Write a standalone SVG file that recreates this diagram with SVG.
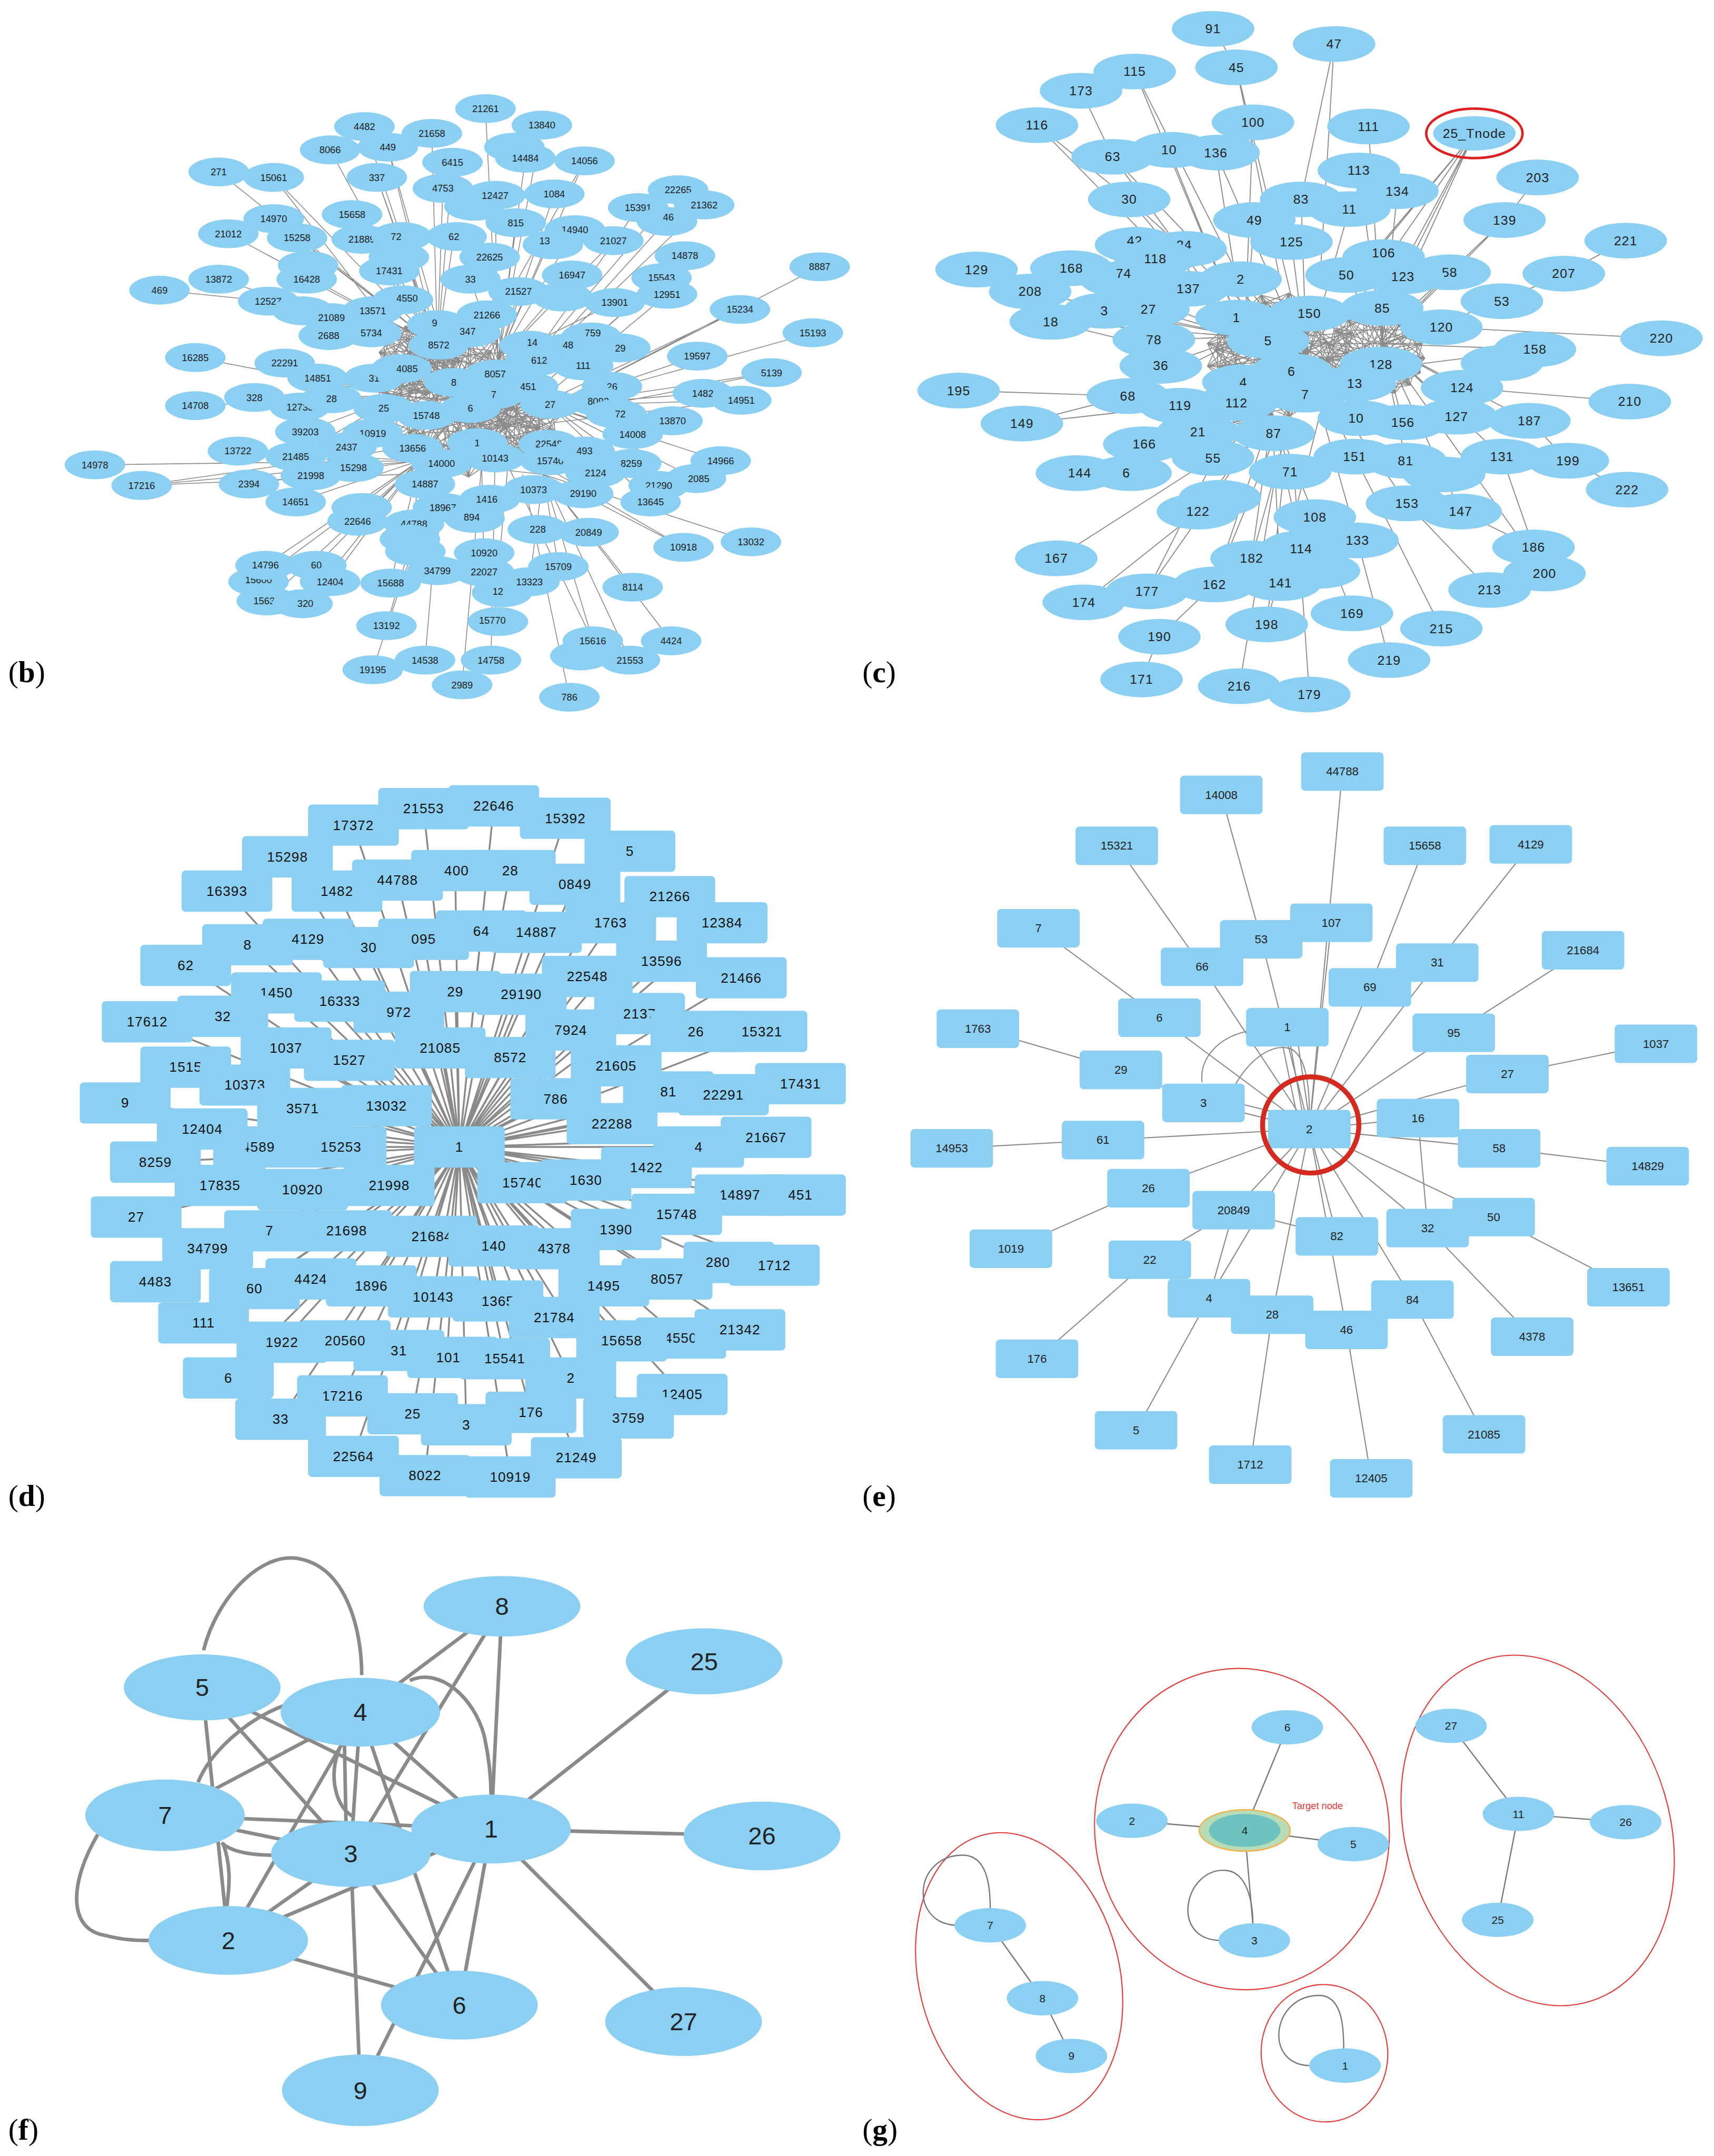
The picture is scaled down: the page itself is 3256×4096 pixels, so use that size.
<svg xmlns="http://www.w3.org/2000/svg" width="3256" height="4096" viewBox="0 0 3256 4096">
<style>
.nb ellipse,.nc ellipse,.nf ellipse,.ng ellipse{fill:#8BCFF3}
.nd rect,.ne rect{fill:#8BCFF3}
text{text-anchor:middle;dominant-baseline:central}
.nb text{font:7px "Liberation Sans",Arial,sans-serif;fill:#1d1d1d}
.nc text{font:9.5px "Liberation Sans",Arial,sans-serif;fill:#222;letter-spacing:.4px}
.nd text{font:10px "Liberation Sans",Arial,sans-serif;fill:#111;letter-spacing:.4px}
.ne text{font:8.5px "Liberation Sans",Arial,sans-serif;fill:#222}
.nf text{font:18px "Liberation Sans",Arial,sans-serif;fill:#222}
.ng text{font:8px "Liberation Sans",Arial,sans-serif;fill:#222}
.eb{stroke:#8a8a8a;stroke-width:.6;fill:none}
.ec{stroke:#8a8a8a;stroke-width:.7;fill:none}
.ed{stroke:#8a8a8a;stroke-width:1.3;fill:none}
.ee{stroke:#8a8a8a;stroke-width:.8;fill:none}
.ef{stroke:#8a8a8a;stroke-width:2.6;fill:none}
.eg{stroke:#777;stroke-width:.9;fill:none}
.grp{fill:none;stroke:#E53935;stroke-width:.8}
.pl{font:22px "Liberation Serif","Times New Roman",serif;fill:#000;text-anchor:start;dominant-baseline:auto}
</style>
<defs>
<g id="mesh" fill="none" stroke="#8a8a8a">
<polygon vector-effect="non-scaling-stroke" stroke-width="1.6" points="100,0 -85,52.6 44.6,-89.5 9.2,99.6 -60.3,-79.8 93.3,36.1 -98.3,18.4 73.9,-67.4 -27.4,96.2 -27.4,-96.2 73.9,67.4 -98.3,-18.4 93.3,-36.1 -60.3,79.8 9.2,-99.6 44.6,89.5 -85,-52.6"/>
<polygon vector-effect="non-scaling-stroke" stroke-width="1.6" points="100,0 -27.4,96.2 -85,-52.6 73.9,-67.4 44.6,89.5 -98.3,18.4 9.2,-99.6 93.3,36.1 -60.3,79.8 -60.3,-79.8 93.3,-36.1 9.2,99.6 -98.3,-18.4 44.6,-89.5 73.9,67.4 -85,52.6 -27.4,-96.2"/>
<polygon vector-effect="non-scaling-stroke" stroke-width="1.6" points="100,0 -98.3,18.4 93.3,-36.1 -85,52.6 73.9,-67.4 -60.3,79.8 44.6,-89.5 -27.4,96.2 9.2,-99.6 9.2,99.6 -27.4,-96.2 44.6,89.5 -60.3,-79.8 73.9,67.4 -85,-52.6 93.3,36.1 -98.3,-18.4"/>
<polygon vector-effect="non-scaling-stroke" stroke-width="1.6" points="100,0 44.6,89.5 -60.3,79.8 -98.3,-18.4 -27.4,-96.2 73.9,-67.4 93.3,36.1 9.2,99.6 -85,52.6 -85,-52.6 9.2,-99.6 93.3,-36.1 73.9,67.4 -27.4,96.2 -98.3,18.4 -60.3,-79.8 44.6,-89.5"/>
</g>
</defs>
<rect width="3256" height="4096" fill="#fff"/>
<g transform="scale(2.6127)">

<!-- ================= PANEL B ================= -->
<g id="b-edges" class="eb">
<use href="#mesh" transform="translate(335,292) scale(0.62,0.55)"/>
<use href="#mesh" transform="translate(330,288) rotate(11) scale(0.45,0.42)"/>
<use href="#mesh" transform="translate(372,300) rotate(5) scale(0.35,0.3)"/>
<use href="#mesh" transform="translate(305,262) rotate(20) scale(0.3,0.25)"/>
<path d="M265 92L318 252M314 97L318 252M240 109L318 252M282 107L318 252M159 125L318 252M199 129L318 252M274 129L318 252M322 137L318 252M199 159L318 252M256 156L318 252M166 170L318 252M216 173L318 252M263 174L318 252M159 203L318 252M116 211L195 219M195 219L318 252M223 203L318 252M283 197L318 252M329 118L318 252M330 172L318 252M290 172L318 252M274 129L330 290M199 129L300 260M282 107L325 260"/>
<path d="M353 79L362 262M394 91L362 262M382 115L362 262M425 117L362 262M360 142L362 262M403 141L362 262M375 162L362 262M418 167L362 262M493 138L380 270M464 151L380 270M512 149L390 265M485 160L390 265M446 175L362 262M498 186L395 280M416 200L362 262M481 202L395 280M485 214L400 285M447 220L362 262M356 187L362 262M377 212L362 262M342 203L362 262M399 174L362 262M425 117L350 250"/>
<path d="M596 194L400 295M538 225L400 295M538 225L380 300M591 242L400 295M507 259L400 295M561 271L400 295M561 271L385 305M511 286L400 295M539 291L400 295M539 291L380 310M489 306L400 295M460 316L400 295M524 335L400 295M506 348L400 295M479 353L400 295M473 365L400 295"/>
<path d="M546 394L395 345M497 398L395 345M497 398L380 330M460 427L395 345M488 466L395 345M458 480L395 345M431 466L395 345M431 466L370 340M414 507L380 345M406 412L395 345M385 423L395 345M359 451L370 330M357 480L360 330M336 498L350 340M352 416L350 330"/>
<path d="M69 338L305 335M103 353L305 335M103 353L300 325M103 353L290 345M173 328L305 335M181 352L305 335M215 365L305 335M193 411L305 335M230 411L305 335M188 422L305 335M240 423L305 335M194 437L305 335M222 439L305 335M284 424L305 335M281 455L315 340M271 487L320 340M309 480L320 350M318 415L320 340M260 379L305 335M301 381L305 335"/>
<path d="M142 260L290 288M207 264L290 288M142 295L290 288M185 289L290 288M218 296L290 288M222 314L290 288M215 332L290 288M226 346L290 288M231 275L290 288"/>
<path d="M318 252L400 295M318 252L395 345M318 252L305 335M362 262L305 335M362 262L395 345M400 295L305 335M290 288L400 295M290 288L395 345M290 288L362 262M318 252L362 262M305 335L395 345"/>
</g>
<g id="b-nodes" class="nb">
<g id="b-h1"><ellipse cx="374" cy="107" rx="22" ry="10.5"/></g>
<g id="b-21261"><ellipse cx="353" cy="79" rx="22" ry="10.5"/><text x="353" y="79">21261</text></g>
<g id="b-13840"><ellipse cx="394" cy="91" rx="22" ry="10.5"/><text x="394" y="91">13840</text></g>
<g id="b-4482"><ellipse cx="265" cy="92" rx="22" ry="10.5"/><text x="265" y="92">4482</text></g>
<g id="b-21658"><ellipse cx="314" cy="97" rx="22" ry="10.5"/><text x="314" y="97">21658</text></g>
<g id="b-8066"><ellipse cx="240" cy="109" rx="22" ry="10.5"/><text x="240" y="109">8066</text></g>
<g id="b-449"><ellipse cx="282" cy="107" rx="22" ry="10.5"/><text x="282" y="107">449</text></g>
<g id="b-14484"><ellipse cx="382" cy="115" rx="22" ry="10.5"/><text x="382" y="115">14484</text></g>
<g id="b-14056"><ellipse cx="425" cy="117" rx="22" ry="10.5"/><text x="425" y="117">14056</text></g>
<g id="b-6415"><ellipse cx="329" cy="118" rx="22" ry="10.5"/><text x="329" y="118">6415</text></g>
<g id="b-271"><ellipse cx="159" cy="125" rx="22" ry="10.5"/><text x="159" y="125">271</text></g>
<g id="b-15061"><ellipse cx="199" cy="129" rx="22" ry="10.5"/><text x="199" y="129">15061</text></g>
<g id="b-337"><ellipse cx="274" cy="129" rx="22" ry="10.5"/><text x="274" y="129">337</text></g>
<g id="b-4753"><ellipse cx="322" cy="137" rx="22" ry="10.5"/><text x="322" y="137">4753</text></g>
<g id="b-h2"><ellipse cx="345" cy="150" rx="22" ry="10.5"/></g>
<g id="b-12427"><ellipse cx="360" cy="142" rx="22" ry="10.5"/><text x="360" y="142">12427</text></g>
<g id="b-1084"><ellipse cx="403" cy="141" rx="22" ry="10.5"/><text x="403" y="141">1084</text></g>
<g id="b-22265"><ellipse cx="493" cy="138" rx="22" ry="10.5"/><text x="493" y="138">22265</text></g>
<g id="b-15391"><ellipse cx="464" cy="151" rx="22" ry="10.5"/><text x="464" y="151">15391</text></g>
<g id="b-21362"><ellipse cx="512" cy="149" rx="22" ry="10.5"/><text x="512" y="149">21362</text></g>
<g id="b-46"><ellipse cx="485" cy="161" rx="22" ry="10.5"/><text x="486" y="158">46</text></g>
<g id="b-14970"><ellipse cx="199" cy="159" rx="22" ry="10.5"/><text x="199" y="159">14970</text></g>
<g id="b-15658"><ellipse cx="256" cy="156" rx="22" ry="10.5"/><text x="256" y="156">15658</text></g>
<g id="b-21012"><ellipse cx="166" cy="170" rx="22" ry="10.5"/><text x="166" y="170">21012</text></g>
<g id="b-15258"><ellipse cx="216" cy="173" rx="22" ry="10.5"/><text x="216" y="173">15258</text></g>
<g id="b-21889"><ellipse cx="263" cy="174" rx="22" ry="10.5"/><text x="263" y="174">21889</text></g>
<g id="b-72"><ellipse cx="292" cy="172" rx="22" ry="10.5"/><text x="288" y="172">72</text></g>
<g id="b-62"><ellipse cx="332" cy="172" rx="22" ry="10.5"/><text x="330" y="172">62</text></g>
<g id="b-815"><ellipse cx="375" cy="162" rx="22" ry="10.5"/><text x="375" y="162">815</text></g>
<g id="b-14940"><ellipse cx="418" cy="167" rx="22" ry="10.5"/><text x="418" y="167">14940</text></g>
<g id="b-13"><ellipse cx="402" cy="178" rx="22" ry="10.5"/><text x="396" y="175">13</text></g>
<g id="b-21027"><ellipse cx="446" cy="175" rx="22" ry="10.5"/><text x="446" y="175">21027</text></g>
<g id="b-14878"><ellipse cx="498" cy="186" rx="22" ry="10.5"/><text x="498" y="186">14878</text></g>
<g id="b-22625"><ellipse cx="356" cy="187" rx="22" ry="10.5"/><text x="356" y="187">22625</text></g>
<g id="b-h3"><ellipse cx="290" cy="187" rx="22" ry="10.5"/></g>
<g id="b-h4"><ellipse cx="224" cy="193" rx="22" ry="10.5"/></g>
<g id="b-17431"><ellipse cx="283" cy="197" rx="22" ry="10.5"/><text x="283" y="197">17431</text></g>
<g id="b-16947"><ellipse cx="416" cy="200" rx="22" ry="10.5"/><text x="416" y="200">16947</text></g>
<g id="b-15543"><ellipse cx="481" cy="202" rx="22" ry="10.5"/><text x="481" y="202">15543</text></g>
<g id="b-13872"><ellipse cx="159" cy="203" rx="22" ry="10.5"/><text x="159" y="203">13872</text></g>
<g id="b-469"><ellipse cx="116" cy="211" rx="22" ry="10.5"/><text x="116" y="211">469</text></g>
<g id="b-16428"><ellipse cx="223" cy="203" rx="22" ry="10.5"/><text x="223" y="203">16428</text></g>
<g id="b-33"><ellipse cx="342" cy="203" rx="22" ry="10.5"/><text x="342" y="203">33</text></g>
<g id="b-21527"><ellipse cx="377" cy="212" rx="22" ry="10.5"/><text x="377" y="212">21527</text></g>
<g id="b-12951"><ellipse cx="485" cy="214" rx="22" ry="10.5"/><text x="485" y="214">12951</text></g>
<g id="b-8887"><ellipse cx="596" cy="194" rx="22" ry="10.5"/><text x="596" y="194">8887</text></g>
<g id="b-h5"><ellipse cx="409" cy="216" rx="22" ry="10.5"/></g>
<g id="b-13901"><ellipse cx="447" cy="220" rx="22" ry="10.5"/><text x="447" y="220">13901</text></g>
<g id="b-12527"><ellipse cx="195" cy="219" rx="22" ry="10.5"/><text x="195" y="219">12527</text></g>
<g id="b-h6"><ellipse cx="220" cy="226" rx="22" ry="10.5"/></g>
<g id="b-14550"><ellipse cx="293" cy="218" rx="22" ry="10.5"/><text x="296" y="217">4550</text></g>
<g id="b-13571"><ellipse cx="271" cy="226" rx="22" ry="10.5"/><text x="271" y="226">13571</text></g>
<g id="b-21089"><ellipse cx="241" cy="231" rx="22" ry="10.5"/><text x="241" y="231">21089</text></g>
<g id="b-21266"><ellipse cx="354" cy="229" rx="22" ry="10.5"/><text x="354" y="229">21266</text></g>
<g id="b-15234"><ellipse cx="538" cy="225" rx="22" ry="10.5"/><text x="538" y="225">15234</text></g>
<g id="b-9"><ellipse cx="318" cy="236" rx="22" ry="10.5"/><text x="316" y="235">9</text></g>
<g id="b-347"><ellipse cx="342" cy="242" rx="22" ry="10.5"/><text x="340" y="241">347</text></g>
<g id="b-2688"><ellipse cx="239" cy="244" rx="22" ry="10.5"/><text x="239" y="244">2688</text></g>
<g id="b-5734"><ellipse cx="270" cy="242" rx="22" ry="10.5"/><text x="270" y="242">5734</text></g>
<g id="b-15193"><ellipse cx="591" cy="242" rx="22" ry="10.5"/><text x="591" y="242">15193</text></g>
<g id="b-8572"><ellipse cx="319" cy="251" rx="22" ry="10.5"/><text x="319" y="251">8572</text></g>
<g id="b-759"><ellipse cx="430" cy="245" rx="22" ry="10.5"/><text x="431" y="242">759</text></g>
<g id="b-48"><ellipse cx="413" cy="253" rx="22" ry="10.5"/><text x="413" y="251">48</text></g>
<g id="b-29"><ellipse cx="451" cy="253" rx="22" ry="10.5"/><text x="451" y="253">29</text></g>
<g id="b-14"><ellipse cx="385" cy="251" rx="22" ry="10.5"/><text x="387" y="249">14</text></g>
<g id="b-16285"><ellipse cx="142" cy="260" rx="22" ry="10.5"/><text x="142" y="260">16285</text></g>
<g id="b-22291"><ellipse cx="207" cy="264" rx="22" ry="10.5"/><text x="207" y="264">22291</text></g>
<g id="b-19597"><ellipse cx="507" cy="259" rx="22" ry="10.5"/><text x="507" y="259">19597</text></g>
<g id="b-612"><ellipse cx="389" cy="263" rx="22" ry="10.5"/><text x="392" y="262">612</text></g>
<g id="b-111"><ellipse cx="424" cy="266" rx="22" ry="10.5"/><text x="424" y="266">111</text></g>
<g id="b-14851"><ellipse cx="231" cy="275" rx="22" ry="10.5"/><text x="231" y="275">14851</text></g>
<g id="b-31"><ellipse cx="272" cy="275" rx="22" ry="10.5"/><text x="272" y="275">31</text></g>
<g id="b-4085"><ellipse cx="292" cy="268" rx="22" ry="10.5"/><text x="296" y="268">4085</text></g>
<g id="b-8057"><ellipse cx="360" cy="272" rx="22" ry="10.5"/><text x="360" y="272">8057</text></g>
<g id="b-5139"><ellipse cx="561" cy="271" rx="22" ry="10.5"/><text x="561" y="271">5139</text></g>
<g id="b-8"><ellipse cx="330" cy="278" rx="22" ry="10.5"/><text x="330" y="278">8</text></g>
<g id="b-451"><ellipse cx="384" cy="281" rx="22" ry="10.5"/><text x="384" y="281">451</text></g>
<g id="b-26"><ellipse cx="445" cy="281" rx="22" ry="10.5"/><text x="445" y="281">26</text></g>
<g id="b-328"><ellipse cx="185" cy="289" rx="22" ry="10.5"/><text x="185" y="289">328</text></g>
<g id="b-14826"><ellipse cx="511" cy="286" rx="22" ry="10.5"/><text x="511" y="286">1482</text></g>
<g id="b-14951"><ellipse cx="539" cy="291" rx="22" ry="10.5"/><text x="539" y="291">14951</text></g>
<g id="b-7"><ellipse cx="359" cy="287" rx="22" ry="10.5"/><text x="359" y="287">7</text></g>
<g id="b-27"><ellipse cx="400" cy="294" rx="22" ry="10.5"/><text x="400" y="294">27</text></g>
<g id="b-8092"><ellipse cx="435" cy="292" rx="22" ry="10.5"/><text x="435" y="292">8092</text></g>
<g id="b-12738"><ellipse cx="218" cy="296" rx="22" ry="10.5"/><text x="218" y="296">12738</text></g>
<g id="b-28"><ellipse cx="241" cy="290" rx="22" ry="10.5"/><text x="241" y="290">28</text></g>
<g id="b-14708"><ellipse cx="142" cy="295" rx="22" ry="10.5"/><text x="142" y="295">14708</text></g>
<g id="b-25"><ellipse cx="279" cy="297" rx="22" ry="10.5"/><text x="279" y="297">25</text></g>
<g id="b-6"><ellipse cx="342" cy="297" rx="22" ry="10.5"/><text x="342" y="297">6</text></g>
<g id="b-15748"><ellipse cx="310" cy="302" rx="22" ry="10.5"/><text x="310" y="302">15748</text></g>
<g id="b-2572"><ellipse cx="448" cy="301" rx="22" ry="10.5"/><text x="451" y="301">72</text></g>
<g id="b-13870"><ellipse cx="489" cy="306" rx="22" ry="10.5"/><text x="489" y="306">13870</text></g>
<g id="b-39203"><ellipse cx="222" cy="314" rx="22" ry="10.5"/><text x="222" y="314">39203</text></g>
<g id="b-10919"><ellipse cx="271" cy="315" rx="22" ry="10.5"/><text x="271" y="315">10919</text></g>
<g id="b-14008"><ellipse cx="460" cy="316" rx="22" ry="10.5"/><text x="460" y="316">14008</text></g>
<g id="b-1"><ellipse cx="347" cy="322" rx="22" ry="10.5"/><text x="347" y="322">1</text></g>
<g id="b-24372"><ellipse cx="252" cy="325" rx="22" ry="10.5"/><text x="252" y="325">2437</text></g>
<g id="b-13656"><ellipse cx="300" cy="326" rx="22" ry="10.5"/><text x="300" y="326">13656</text></g>
<g id="b-22548"><ellipse cx="399" cy="323" rx="22" ry="10.5"/><text x="399" y="323">22548</text></g>
<g id="b-14000"><ellipse cx="321" cy="337" rx="22" ry="10.5"/><text x="321" y="337">14000</text></g>
<g id="b-10143"><ellipse cx="360" cy="333" rx="22" ry="10.5"/><text x="360" y="333">10143</text></g>
<g id="b-15740"><ellipse cx="400" cy="335" rx="22" ry="10.5"/><text x="400" y="335">15740</text></g>
<g id="b-493"><ellipse cx="425" cy="328" rx="22" ry="10.5"/><text x="425" y="328">493</text></g>
<g id="b-8259"><ellipse cx="459" cy="337" rx="22" ry="10.5"/><text x="459" y="337">8259</text></g>
<g id="b-13722"><ellipse cx="173" cy="328" rx="22" ry="10.5"/><text x="173" y="328">13722</text></g>
<g id="b-21485"><ellipse cx="215" cy="332" rx="22" ry="10.5"/><text x="215" y="332">21485</text></g>
<g id="b-14966"><ellipse cx="524" cy="335" rx="22" ry="10.5"/><text x="524" y="335">14966</text></g>
<g id="b-14978"><ellipse cx="69" cy="338" rx="22" ry="10.5"/><text x="69" y="338">14978</text></g>
<g id="b-15298"><ellipse cx="257" cy="340" rx="22" ry="10.5"/><text x="257" y="340">15298</text></g>
<g id="b-21998"><ellipse cx="226" cy="346" rx="22" ry="10.5"/><text x="226" y="346">21998</text></g>
<g id="b-2124"><ellipse cx="433" cy="344" rx="22" ry="10.5"/><text x="433" y="344">2124</text></g>
<g id="b-22085"><ellipse cx="506" cy="348" rx="22" ry="10.5"/><text x="508" y="348">2085</text></g>
<g id="b-17216"><ellipse cx="103" cy="353" rx="22" ry="10.5"/><text x="103" y="353">17216</text></g>
<g id="b-2394"><ellipse cx="181" cy="352" rx="22" ry="10.5"/><text x="181" y="352">2394</text></g>
<g id="b-14887"><ellipse cx="309" cy="352" rx="22" ry="10.5"/><text x="309" y="352">14887</text></g>
<g id="b-10373"><ellipse cx="388" cy="356" rx="22" ry="10.5"/><text x="388" y="356">10373</text></g>
<g id="b-29190"><ellipse cx="424" cy="359" rx="22" ry="10.5"/><text x="424" y="359">29190</text></g>
<g id="b-21290"><ellipse cx="479" cy="353" rx="22" ry="10.5"/><text x="479" y="353">21290</text></g>
<g id="b-14651"><ellipse cx="215" cy="365" rx="22" ry="10.5"/><text x="215" y="365">14651</text></g>
<g id="b-1416"><ellipse cx="356" cy="363" rx="22" ry="10.5"/><text x="354" y="363">1416</text></g>
<g id="b-18967"><ellipse cx="322" cy="369" rx="22" ry="10.5"/><text x="322" y="369">18967</text></g>
<g id="b-13645"><ellipse cx="473" cy="365" rx="22" ry="10.5"/><text x="473" y="365">13645</text></g>
<g id="b-h7"><ellipse cx="263" cy="369" rx="22" ry="10.5"/></g>
<g id="b-22646"><ellipse cx="260" cy="379" rx="22" ry="10.5"/><text x="260" y="379">22646</text></g>
<g id="b-44788"><ellipse cx="301" cy="381" rx="22" ry="10.5"/><text x="301" y="381">44788</text></g>
<g id="b-894"><ellipse cx="345" cy="377" rx="22" ry="10.5"/><text x="343" y="376">894</text></g>
<g id="b-228"><ellipse cx="391" cy="385" rx="22" ry="10.5"/><text x="391" y="385">228</text></g>
<g id="b-20849"><ellipse cx="428" cy="387" rx="22" ry="10.5"/><text x="428" y="387">20849</text></g>
<g id="b-13032"><ellipse cx="546" cy="394" rx="22" ry="10.5"/><text x="546" y="394">13032</text></g>
<g id="b-10918"><ellipse cx="497" cy="398" rx="22" ry="10.5"/><text x="497" y="398">10918</text></g>
<g id="b-h8"><ellipse cx="298" cy="392" rx="22" ry="10.5"/></g>
<g id="b-h9"><ellipse cx="302" cy="401" rx="22" ry="10.5"/></g>
<g id="b-10920"><ellipse cx="352" cy="402" rx="22" ry="10.5"/><text x="352" y="402">10920</text></g>
<g id="b-15600"><ellipse cx="188" cy="423" rx="22" ry="10.5"/><text x="188" y="421.5">15600</text></g>
<g id="b-14796"><ellipse cx="193" cy="411" rx="22" ry="10.5"/><text x="193" y="411">14796</text></g>
<g id="b-60"><ellipse cx="230" cy="411" rx="22" ry="10.5"/><text x="230" y="411">60</text></g>
<g id="b-34799"><ellipse cx="318" cy="415" rx="22" ry="10.5"/><text x="318" y="415">34799</text></g>
<g id="b-123"><ellipse cx="365" cy="431" rx="22" ry="10.5"/><text x="362" y="430">12</text></g>
<g id="b-22027"><ellipse cx="352" cy="416" rx="22" ry="10.5"/><text x="352" y="416">22027</text></g>
<g id="b-15709"><ellipse cx="406" cy="412" rx="22" ry="10.5"/><text x="406" y="412">15709</text></g>
<g id="b-12404"><ellipse cx="240" cy="423" rx="22" ry="10.5"/><text x="240" y="423">12404</text></g>
<g id="b-15688"><ellipse cx="284" cy="424" rx="22" ry="10.5"/><text x="284" y="424">15688</text></g>
<g id="b-13323"><ellipse cx="385" cy="423" rx="22" ry="10.5"/><text x="385" y="423">13323</text></g>
<g id="b-8114"><ellipse cx="460" cy="427" rx="22" ry="10.5"/><text x="460" y="427">8114</text></g>
<g id="b-15637"><ellipse cx="194" cy="437" rx="22" ry="10.5"/><text x="194" y="437">15637</text></g>
<g id="b-320"><ellipse cx="220" cy="439" rx="22" ry="10.5"/><text x="222" y="439">320</text></g>
<g id="b-15770"><ellipse cx="362" cy="452" rx="22" ry="10.5"/><text x="358" y="451">15770</text></g>
<g id="b-13192"><ellipse cx="281" cy="455" rx="22" ry="10.5"/><text x="281" y="455">13192</text></g>
<g id="b-h10"><ellipse cx="422" cy="477" rx="22" ry="10.5"/></g>
<g id="b-15616"><ellipse cx="431" cy="466" rx="22" ry="10.5"/><text x="431" y="466">15616</text></g>
<g id="b-4424"><ellipse cx="488" cy="466" rx="22" ry="10.5"/><text x="488" y="466">4424</text></g>
<g id="b-14758"><ellipse cx="357" cy="480" rx="22" ry="10.5"/><text x="357" y="480">14758</text></g>
<g id="b-21553"><ellipse cx="458" cy="480" rx="22" ry="10.5"/><text x="458" y="480">21553</text></g>
<g id="b-14538"><ellipse cx="309" cy="480" rx="22" ry="10.5"/><text x="309" y="480">14538</text></g>
<g id="b-19195"><ellipse cx="271" cy="487" rx="22" ry="10.5"/><text x="271" y="487">19195</text></g>
<g id="b-2989"><ellipse cx="336" cy="498" rx="22" ry="10.5"/><text x="336" y="498">2989</text></g>
<g id="b-786"><ellipse cx="414" cy="507" rx="22" ry="10.5"/><text x="414" y="507">786</text></g>
</g>

<!-- ================= PANEL C ================= -->
<g id="c-edges" class="ec">
<use href="#mesh" transform="translate(932,258) scale(0.55,0.45)"/>
<use href="#mesh" transform="translate(925,255) rotate(10) scale(0.42,0.36)"/>
<use href="#mesh" transform="translate(1000,258) rotate(4) scale(0.36,0.3)"/>
<path d="M825 52L905 245M786 66L809 114M809 114L905 245M754 91L821 145M754 91L905 245M911 89L905 245M850 109L905 245M884 111L905 245M821 145L905 245M821 145L950 262M912 160L905 245M825 175L905 245M840 188L905 245M779 195L905 245M749 212L905 245M864 210L905 245M803 226L905 245M835 225L905 245M764 234L905 245M764 234L850 255M839 247L905 245M844 266L905 245M820 288L905 245M710 196L749 212M809 114L950 262M884 111L950 262M825 52L900 200"/>
<path d="M882 21L899 49M899 49L950 262M899 49L930 200M970 32L946 145M946 145L950 262M981 152L950 262M939 176L950 262M902 203L950 262M899 231L950 262M922 248L950 262M939 270L950 262M949 287L950 262M952 228L950 262M985 332L950 262M1023 366L950 262M987 393L950 262M1010 480L987 393M983 446L956 376M1048 457L985 332"/>
<path d="M995 92L1005 250M988 124L1005 250M1016 139L1005 250M1072 97L985 200M1072 97L995 190M1072 97L1000 230M1072 97L1010 220M1072 97L980 230M1072 97L1025 200M1094 160L1005 250M1094 160L1020 230M1118 129L1094 160M1006 184L1005 250M979 200L1005 250M1020 201L1005 250M1054 198L1005 250M1137 199L1092 219M1182 175L1137 199M1092 219L1005 250M1005 224L1005 250M1048 238L1005 250M1208 246L1048 238M1116 254L1005 250M1116 254L990 270M1004 265L1005 250M985 279L1005 250M1063 282L1005 250M1185 292L1063 282M1020 307L1005 250M1059 303L1005 250M1112 306L1005 250M1140 335L1112 306M1183 356L1140 335M1022 335L1005 250M1092 332L1005 250M1115 398L1092 332M1115 398L1062 372M1062 372L1005 250M1123 417L1005 250M1083 429L1023 366M970 32L960 200"/>
<path d="M697 284L820 288M742 308L820 288M742 308L858 295M820 288L925 300M899 293L925 300M858 295L925 300M871 314L925 300M926 315L925 300M832 323L925 300M882 333L925 300M785 344L925 300M818 344L925 300M938 343L925 300M871 372L925 300M956 376L925 300M946 399L925 300M768 406L882 333M910 406L925 300M834 430L925 300M883 425L925 300M931 424L925 300M788 438L871 372M921 454L935 330M843 463L883 425M830 494L843 463M901 499L930 330M952 505L940 330M910 406L950 262M883 425L950 262M834 430L900 300M921 454L960 300"/>
</g>
<g id="c-nodes" class="nc">
<g id="c-91"><ellipse cx="882" cy="21" rx="30" ry="13"/><text x="882" y="21">91</text></g>
<g id="c-45"><ellipse cx="899" cy="49" rx="30" ry="13"/><text x="899" y="49">45</text></g>
<g id="c-47"><ellipse cx="970" cy="32" rx="30" ry="13"/><text x="970" y="32">47</text></g>
<g id="c-173"><ellipse cx="786" cy="66" rx="30" ry="13"/><text x="786" y="66">173</text></g>
<g id="c-115"><ellipse cx="825" cy="52" rx="30" ry="13"/><text x="825" y="52">115</text></g>
<g id="c-116"><ellipse cx="754" cy="91" rx="30" ry="13"/><text x="754" y="91">116</text></g>
<g id="c-100"><ellipse cx="911" cy="89" rx="30" ry="13"/><text x="911" y="89">100</text></g>
<g id="c-111"><ellipse cx="995" cy="92" rx="30" ry="13"/><text x="995" y="92">111</text></g>
<g id="c-25_Tnode"><ellipse cx="1072" cy="97" rx="30" ry="12.5"/><text x="1072" y="97">25_Tnode</text><ellipse cx="1072" cy="97" rx="35" ry="18" stroke="#E02020" stroke-width="1.8" style="fill:none"/></g>
<g id="c-63"><ellipse cx="809" cy="114" rx="30" ry="13"/><text x="809" y="114">63</text></g>
<g id="c-10a"><ellipse cx="852" cy="109" rx="30" ry="13"/><text x="850" y="109">10</text></g>
<g id="c-136"><ellipse cx="886" cy="111" rx="30" ry="13"/><text x="884" y="111">136</text></g>
<g id="c-113"><ellipse cx="988" cy="124" rx="30" ry="13"/><text x="988" y="124">113</text></g>
<g id="c-203"><ellipse cx="1118" cy="129" rx="30" ry="13"/><text x="1118" y="129">203</text></g>
<g id="c-134"><ellipse cx="1016" cy="139" rx="30" ry="13"/><text x="1016" y="139">134</text></g>
<g id="c-30"><ellipse cx="821" cy="145" rx="30" ry="13"/><text x="821" y="145">30</text></g>
<g id="c-83"><ellipse cx="946" cy="145" rx="30" ry="13"/><text x="946" y="145">83</text></g>
<g id="c-11"><ellipse cx="981" cy="152" rx="30" ry="13"/><text x="981" y="152">11</text></g>
<g id="c-139"><ellipse cx="1094" cy="160" rx="30" ry="13"/><text x="1094" y="160">139</text></g>
<g id="c-49"><ellipse cx="912" cy="160" rx="30" ry="13"/><text x="912" y="160">49</text></g>
<g id="c-221"><ellipse cx="1182" cy="175" rx="30" ry="13"/><text x="1182" y="175">221</text></g>
<g id="c-42"><ellipse cx="826" cy="178" rx="30" ry="13"/><text x="825" y="175">42</text></g>
<g id="c-24"><ellipse cx="862" cy="181" rx="30" ry="13"/><text x="861" y="178">24</text></g>
<g id="c-106"><ellipse cx="1006" cy="187" rx="30" ry="13"/><text x="1006" y="184">106</text></g>
<g id="c-125"><ellipse cx="939" cy="176" rx="30" ry="13"/><text x="939" y="176">125</text></g>
<g id="c-118"><ellipse cx="840" cy="188" rx="30" ry="13"/><text x="840" y="188">118</text></g>
<g id="c-129"><ellipse cx="710" cy="196" rx="30" ry="13"/><text x="710" y="196">129</text></g>
<g id="c-168"><ellipse cx="779" cy="195" rx="30" ry="13"/><text x="779" y="195">168</text></g>
<g id="c-74"><ellipse cx="815" cy="203" rx="30" ry="13"/><text x="817" y="199">74</text></g>
<g id="c-208"><ellipse cx="749" cy="212" rx="30" ry="13"/><text x="749" y="212">208</text></g>
<g id="c-137"><ellipse cx="864" cy="210" rx="30" ry="13"/><text x="864" y="210">137</text></g>
<g id="c-2"><ellipse cx="902" cy="203" rx="30" ry="13"/><text x="902" y="203">2</text></g>
<g id="c-50"><ellipse cx="979" cy="200" rx="30" ry="13"/><text x="979" y="200">50</text></g>
<g id="c-58"><ellipse cx="1054" cy="198" rx="30" ry="13"/><text x="1054" y="198">58</text></g>
<g id="c-123"><ellipse cx="1020" cy="201" rx="30" ry="13"/><text x="1020" y="201">123</text></g>
<g id="c-207"><ellipse cx="1137" cy="199" rx="30" ry="13"/><text x="1137" y="199">207</text></g>
<g id="c-53"><ellipse cx="1092" cy="219" rx="30" ry="13"/><text x="1092" y="219">53</text></g>
<g id="c-3"><ellipse cx="803" cy="226" rx="30" ry="13"/><text x="803" y="226">3</text></g>
<g id="c-27"><ellipse cx="835" cy="225" rx="30" ry="13"/><text x="835" y="225">27</text></g>
<g id="c-150"><ellipse cx="952" cy="228" rx="30" ry="13"/><text x="952" y="228">150</text></g>
<g id="c-85"><ellipse cx="1005" cy="224" rx="30" ry="13"/><text x="1005" y="224">85</text></g>
<g id="c-1"><ellipse cx="899" cy="231" rx="30" ry="13"/><text x="899" y="231">1</text></g>
<g id="c-18"><ellipse cx="764" cy="234" rx="30" ry="13"/><text x="764" y="234">18</text></g>
<g id="c-120"><ellipse cx="1048" cy="238" rx="30" ry="13"/><text x="1048" y="238">120</text></g>
<g id="c-220"><ellipse cx="1208" cy="246" rx="30" ry="13"/><text x="1208" y="246">220</text></g>
<g id="c-78"><ellipse cx="839" cy="247" rx="30" ry="13"/><text x="839" y="247">78</text></g>
<g id="c-5"><ellipse cx="922" cy="248" rx="30" ry="13"/><text x="922" y="248">5</text></g>
<g id="c-1xx"><ellipse cx="1092" cy="264" rx="30" ry="13"/></g>
<g id="c-158"><ellipse cx="1116" cy="254" rx="30" ry="13"/><text x="1116" y="254">158</text></g>
<g id="c-36"><ellipse cx="844" cy="266" rx="30" ry="13"/><text x="844" y="266">36</text></g>
<g id="c-128"><ellipse cx="1004" cy="265" rx="30" ry="13"/><text x="1004" y="265">128</text></g>
<g id="c-6"><ellipse cx="939" cy="270" rx="30" ry="13"/><text x="939" y="270">6</text></g>
<g id="c-13"><ellipse cx="985" cy="279" rx="30" ry="13"/><text x="985" y="279">13</text></g>
<g id="c-4"><ellipse cx="904" cy="278" rx="30" ry="13"/><text x="904" y="278">4</text></g>
<g id="c-124"><ellipse cx="1063" cy="282" rx="30" ry="13"/><text x="1063" y="282">124</text></g>
<g id="c-7"><ellipse cx="949" cy="287" rx="30" ry="13"/><text x="949" y="287">7</text></g>
<g id="c-195"><ellipse cx="697" cy="284" rx="30" ry="13"/><text x="697" y="284">195</text></g>
<g id="c-68"><ellipse cx="820" cy="288" rx="30" ry="13"/><text x="820" y="288">68</text></g>
<g id="c-210"><ellipse cx="1185" cy="292" rx="30" ry="13"/><text x="1185" y="292">210</text></g>
<g id="c-112"><ellipse cx="899" cy="293" rx="30" ry="13"/><text x="899" y="293">112</text></g>
<g id="c-119"><ellipse cx="858" cy="295" rx="30" ry="13"/><text x="858" y="295">119</text></g>
<g id="c-10b"><ellipse cx="988" cy="304" rx="30" ry="13"/><text x="986" y="304">10</text></g>
<g id="c-156"><ellipse cx="1022" cy="307" rx="30" ry="13"/><text x="1020" y="307">156</text></g>
<g id="c-127"><ellipse cx="1059" cy="303" rx="30" ry="13"/><text x="1059" y="303">127</text></g>
<g id="c-187"><ellipse cx="1112" cy="306" rx="30" ry="13"/><text x="1112" y="306">187</text></g>
<g id="c-149"><ellipse cx="743" cy="308" rx="30" ry="13"/><text x="743" y="308">149</text></g>
<g id="c-21"><ellipse cx="871" cy="314" rx="30" ry="13"/><text x="871" y="314">21</text></g>
<g id="c-87"><ellipse cx="926" cy="315" rx="30" ry="13"/><text x="926" y="315">87</text></g>
<g id="c-166"><ellipse cx="832" cy="323" rx="30" ry="13"/><text x="832" y="323">166</text></g>
<g id="c-151"><ellipse cx="985" cy="332" rx="30" ry="13"/><text x="985" y="332">151</text></g>
<g id="c-51"><ellipse cx="1050" cy="345" rx="30" ry="13"/></g>
<g id="c-81"><ellipse cx="1022" cy="335" rx="30" ry="13"/><text x="1022" y="335">81</text></g>
<g id="c-131"><ellipse cx="1092" cy="332" rx="30" ry="13"/><text x="1092" y="332">131</text></g>
<g id="c-199"><ellipse cx="1140" cy="335" rx="30" ry="13"/><text x="1140" y="335">199</text></g>
<g id="c-55"><ellipse cx="882" cy="333" rx="30" ry="13"/><text x="882" y="333">55</text></g>
<g id="c-6b"><ellipse cx="822" cy="344" rx="30" ry="13"/><text x="819" y="344">6</text></g>
<g id="c-144"><ellipse cx="783" cy="344" rx="30" ry="13"/><text x="785" y="344">144</text></g>
<g id="c-71"><ellipse cx="938" cy="343" rx="30" ry="13"/><text x="938" y="343">71</text></g>
<g id="c-222"><ellipse cx="1183" cy="356" rx="30" ry="13"/><text x="1183" y="356">222</text></g>
<g id="c-h147"><ellipse cx="887" cy="362" rx="30" ry="13"/></g>
<g id="c-122"><ellipse cx="871" cy="372" rx="30" ry="13"/><text x="871" y="372">122</text></g>
<g id="c-153"><ellipse cx="1023" cy="366" rx="30" ry="13"/><text x="1023" y="366">153</text></g>
<g id="c-147"><ellipse cx="1062" cy="372" rx="30" ry="13"/><text x="1062" y="372">147</text></g>
<g id="c-108"><ellipse cx="956" cy="376" rx="30" ry="13"/><text x="956" y="376">108</text></g>
<g id="c-133"><ellipse cx="987" cy="393" rx="30" ry="13"/><text x="987" y="393">133</text></g>
<g id="c-114"><ellipse cx="946" cy="399" rx="30" ry="13"/><text x="946" y="399">114</text></g>
<g id="c-186"><ellipse cx="1115" cy="398" rx="30" ry="13"/><text x="1115" y="398">186</text></g>
<g id="c-167"><ellipse cx="768" cy="406" rx="30" ry="13"/><text x="768" y="406">167</text></g>
<g id="c-182"><ellipse cx="910" cy="406" rx="30" ry="13"/><text x="910" y="406">182</text></g>
<g id="c-20"><ellipse cx="959" cy="415" rx="30" ry="13"/></g>
<g id="c-200"><ellipse cx="1123" cy="417" rx="30" ry="13"/><text x="1123" y="417">200</text></g>
<g id="c-177"><ellipse cx="834" cy="430" rx="30" ry="13"/><text x="834" y="430">177</text></g>
<g id="c-162"><ellipse cx="883" cy="425" rx="30" ry="13"/><text x="883" y="425">162</text></g>
<g id="c-141"><ellipse cx="931" cy="424" rx="30" ry="13"/><text x="931" y="424">141</text></g>
<g id="c-213"><ellipse cx="1083" cy="429" rx="30" ry="13"/><text x="1083" y="429">213</text></g>
<g id="c-174"><ellipse cx="788" cy="438" rx="30" ry="13"/><text x="788" y="438">174</text></g>
<g id="c-169"><ellipse cx="983" cy="446" rx="30" ry="13"/><text x="983" y="446">169</text></g>
<g id="c-198"><ellipse cx="921" cy="454" rx="30" ry="13"/><text x="921" y="454">198</text></g>
<g id="c-215"><ellipse cx="1048" cy="457" rx="30" ry="13"/><text x="1048" y="457">215</text></g>
<g id="c-190"><ellipse cx="843" cy="463" rx="30" ry="13"/><text x="843" y="463">190</text></g>
<g id="c-219"><ellipse cx="1010" cy="480" rx="30" ry="13"/><text x="1010" y="480">219</text></g>
<g id="c-171"><ellipse cx="830" cy="494" rx="30" ry="13"/><text x="830" y="494">171</text></g>
<g id="c-216"><ellipse cx="901" cy="499" rx="30" ry="13"/><text x="901" y="499">216</text></g>
<g id="c-179"><ellipse cx="952" cy="505" rx="30" ry="13"/><text x="952" y="505">179</text></g>
</g>

<!-- ================= PANEL D ================= -->
<g id="d-edges" class="ed">
<path d="M334 834L257 600M334 834L308 588M334 834L359 586M334 834L411 595M334 834L458 619M334 834L209 623M334 834L165 648M334 834L245 648M334 834L289 640M334 834L331 633M334 834L371 633M334 834L418 643M334 834L487 652M334 834L525 671M334 834L180 687M334 834L224 683M334 834L268 689M334 834L308 683M334 834L350 677M334 834L390 678M334 834L444 671M334 834L135 702M334 834L481 699M334 834L539 711M334 834L201 722M334 834L247 728M334 834L331 721M334 834L379 723M334 834L290 736M334 834L427 710M334 834L107 743M334 834L162 739M334 834L465 737M334 834L506 750M334 834L554 750M334 834L208 762M334 834L254 771M334 834L320 762M334 834L371 769M334 834L415 749M334 834L448 775M334 834L135 776M334 834L178 789M334 834L91 802M334 834L220 806M334 834L281 804M334 834L404 799M334 834L486 794M334 834L526 796M334 834L582 788M334 834L147 821M334 834L188 834M334 834L248 834M334 834L445 817M334 834L508 834M334 834L557 827M334 834L113 845M334 834L160 862M334 834L220 865M334 834L283 862M334 834L380 860M334 834L426 858M334 834L470 849M334 834L538 869M334 834L583 869M334 834L99 885M334 834L492 883M334 834L196 895M334 834L252 895M334 834L314 899M334 834L359 906M334 834L403 908M334 834L448 894M334 834L151 908M334 834L522 918M334 834L563 920M334 834L113 932M334 834L185 937M334 834L226 930M334 834L270 935M334 834L315 943M334 834L362 946M334 834L439 935M334 834L485 930M334 834L403 958M334 834L148 962M334 834L205 976M334 834L251 975M334 834L290 982M334 834L325 987M334 834L367 988M334 834L452 975M334 834L495 973M334 834L538 967M334 834L166 1002M334 834L415 1002M334 834L249 1015M334 834L300 1028M334 834L386 1027M334 834L496 1014M334 834L204 1032M334 834L339 1036M334 834L457 1031M334 834L257 1059M334 834L419 1060M334 834L309 1073M334 834L371 1074"/>
</g>
<g id="d-nodes" class="nd">
<g id="d-17372"><rect x="224" y="585" width="66" height="30" rx="3"/><text x="257" y="600">17372</text></g>
<g id="d-21553"><rect x="275" y="573" width="66" height="30" rx="3"/><text x="308" y="588">21553</text></g>
<g id="d-22646"><rect x="326" y="571" width="66" height="30" rx="3"/><text x="359" y="586">22646</text></g>
<g id="d-15392"><rect x="378" y="580" width="66" height="30" rx="3"/><text x="411" y="595">15392</text></g>
<g id="d-5"><rect x="425" y="604" width="66" height="30" rx="3"/><text x="458" y="619">5</text></g>
<g id="d-15298"><rect x="176" y="608" width="66" height="30" rx="3"/><text x="209" y="623">15298</text></g>
<g id="d-16393"><rect x="132" y="633" width="66" height="30" rx="3"/><text x="165" y="648">16393</text></g>
<g id="d-1482"><rect x="212" y="633" width="66" height="30" rx="3"/><text x="245" y="648">1482</text></g>
<g id="d-28"><rect x="338" y="618" width="66" height="30" rx="3"/><text x="371" y="633">28</text></g>
<g id="d-400"><rect x="299" y="618" width="66" height="30" rx="3"/><text x="332" y="633">400</text></g>
<g id="d-44788"><rect x="256" y="625" width="66" height="30" rx="3"/><text x="289" y="640">44788</text></g>
<g id="d-0849"><rect x="385" y="628" width="66" height="30" rx="3"/><text x="418" y="643">0849</text></g>
<g id="d-21266"><rect x="454" y="637" width="66" height="30" rx="3"/><text x="487" y="652">21266</text></g>
<g id="d-12384"><rect x="492" y="656" width="66" height="30" rx="3"/><text x="525" y="671">12384</text></g>
<g id="d-8"><rect x="147" y="672" width="66" height="30" rx="3"/><text x="180" y="687">8</text></g>
<g id="d-4129"><rect x="191" y="668" width="66" height="30" rx="3"/><text x="224" y="683">4129</text></g>
<g id="d-30"><rect x="235" y="674" width="66" height="30" rx="3"/><text x="268" y="689">30</text></g>
<g id="d-095"><rect x="275" y="668" width="66" height="30" rx="3"/><text x="308" y="683">095</text></g>
<g id="d-64"><rect x="317" y="662" width="66" height="30" rx="3"/><text x="350" y="677">64</text></g>
<g id="d-14887"><rect x="357" y="663" width="66" height="30" rx="3"/><text x="390" y="678">14887</text></g>
<g id="d-1763"><rect x="411" y="656" width="66" height="30" rx="3"/><text x="444" y="671">1763</text></g>
<g id="d-62"><rect x="102" y="687" width="66" height="30" rx="3"/><text x="135" y="702">62</text></g>
<g id="d-13596"><rect x="448" y="684" width="66" height="30" rx="3"/><text x="481" y="699">13596</text></g>
<g id="d-21466"><rect x="506" y="696" width="66" height="30" rx="3"/><text x="539" y="711">21466</text></g>
<g id="d-1450"><rect x="168" y="707" width="66" height="30" rx="3"/><text x="201" y="722">1450</text></g>
<g id="d-972"><rect x="257" y="721" width="66" height="30" rx="3"/><text x="290" y="736">972</text></g>
<g id="d-16333"><rect x="214" y="713" width="66" height="30" rx="3"/><text x="247" y="728">16333</text></g>
<g id="d-29"><rect x="298" y="706" width="66" height="30" rx="3"/><text x="331" y="721">29</text></g>
<g id="d-29190"><rect x="346" y="708" width="66" height="30" rx="3"/><text x="379" y="723">29190</text></g>
<g id="d-22548"><rect x="394" y="695" width="66" height="30" rx="3"/><text x="427" y="710">22548</text></g>
<g id="d-17612"><rect x="74" y="728" width="66" height="30" rx="3"/><text x="107" y="743">17612</text></g>
<g id="d-32"><rect x="129" y="724" width="66" height="30" rx="3"/><text x="162" y="739">32</text></g>
<g id="d-2137"><rect x="432" y="722" width="66" height="30" rx="3"/><text x="465" y="737">2137</text></g>
<g id="d-26"><rect x="473" y="735" width="66" height="30" rx="3"/><text x="506" y="750">26</text></g>
<g id="d-15321"><rect x="521" y="735" width="66" height="30" rx="3"/><text x="554" y="750">15321</text></g>
<g id="d-1037"><rect x="175" y="747" width="66" height="30" rx="3"/><text x="208" y="762">1037</text></g>
<g id="d-1527"><rect x="221" y="756" width="66" height="30" rx="3"/><text x="254" y="771">1527</text></g>
<g id="d-21085"><rect x="287" y="747" width="66" height="30" rx="3"/><text x="320" y="762">21085</text></g>
<g id="d-8572"><rect x="338" y="754" width="66" height="30" rx="3"/><text x="371" y="769">8572</text></g>
<g id="d-7924"><rect x="382" y="734" width="66" height="30" rx="3"/><text x="415" y="749">7924</text></g>
<g id="d-21605"><rect x="415" y="760" width="66" height="30" rx="3"/><text x="448" y="775">21605</text></g>
<g id="d-1515"><rect x="102" y="761" width="66" height="30" rx="3"/><text x="135" y="776">1515</text></g>
<g id="d-10373"><rect x="145" y="774" width="66" height="30" rx="3"/><text x="178" y="789">10373</text></g>
<g id="d-9"><rect x="58" y="787" width="66" height="30" rx="3"/><text x="91" y="802">9</text></g>
<g id="d-3571"><rect x="187" y="791" width="66" height="30" rx="3"/><text x="220" y="806">3571</text></g>
<g id="d-13032"><rect x="248" y="789" width="66" height="30" rx="3"/><text x="281" y="804">13032</text></g>
<g id="d-786"><rect x="371" y="784" width="66" height="30" rx="3"/><text x="404" y="799">786</text></g>
<g id="d-81"><rect x="453" y="779" width="66" height="30" rx="3"/><text x="486" y="794">81</text></g>
<g id="d-22291"><rect x="493" y="781" width="66" height="30" rx="3"/><text x="526" y="796">22291</text></g>
<g id="d-17431"><rect x="549" y="773" width="66" height="30" rx="3"/><text x="582" y="788">17431</text></g>
<g id="d-4589"><rect x="155" y="819" width="66" height="30" rx="3"/><text x="188" y="834">4589</text></g>
<g id="d-12404"><rect x="114" y="806" width="66" height="30" rx="3"/><text x="147" y="821">12404</text></g>
<g id="d-15253"><rect x="215" y="819" width="66" height="30" rx="3"/><text x="248" y="834">15253</text></g>
<g id="d-22288"><rect x="412" y="802" width="66" height="30" rx="3"/><text x="445" y="817">22288</text></g>
<g id="d-4"><rect x="475" y="819" width="66" height="30" rx="3"/><text x="508" y="834">4</text></g>
<g id="d-21667"><rect x="524" y="812" width="66" height="30" rx="3"/><text x="557" y="827">21667</text></g>
<g id="d-8259"><rect x="80" y="830" width="66" height="30" rx="3"/><text x="113" y="845">8259</text></g>
<g id="d-17835"><rect x="127" y="847" width="66" height="30" rx="3"/><text x="160" y="862">17835</text></g>
<g id="d-10920"><rect x="187" y="850" width="66" height="30" rx="3"/><text x="220" y="865">10920</text></g>
<g id="d-21998"><rect x="250" y="847" width="66" height="30" rx="3"/><text x="283" y="862">21998</text></g>
<g id="d-15740"><rect x="347" y="845" width="66" height="30" rx="3"/><text x="380" y="860">15740</text></g>
<g id="d-1630"><rect x="393" y="843" width="66" height="30" rx="3"/><text x="426" y="858">1630</text></g>
<g id="d-1422"><rect x="437" y="834" width="66" height="30" rx="3"/><text x="470" y="849">1422</text></g>
<g id="d-27"><rect x="66" y="870" width="66" height="30" rx="3"/><text x="99" y="885">27</text></g>
<g id="d-7"><rect x="163" y="880" width="66" height="30" rx="3"/><text x="196" y="895">7</text></g>
<g id="d-21698"><rect x="219" y="880" width="66" height="30" rx="3"/><text x="252" y="895">21698</text></g>
<g id="d-21684"><rect x="281" y="884" width="66" height="30" rx="3"/><text x="314" y="899">21684</text></g>
<g id="d-140"><rect x="326" y="891" width="66" height="30" rx="3"/><text x="359" y="906">140</text></g>
<g id="d-4378"><rect x="370" y="893" width="66" height="30" rx="3"/><text x="403" y="908">4378</text></g>
<g id="d-1390"><rect x="415" y="879" width="66" height="30" rx="3"/><text x="448" y="894">1390</text></g>
<g id="d-14897"><rect x="505" y="854" width="66" height="30" rx="3"/><text x="538" y="869">14897</text></g>
<g id="d-451"><rect x="553" y="854" width="62" height="30" rx="3"/><text x="582" y="869">451</text></g>
<g id="d-15748"><rect x="459" y="868" width="66" height="30" rx="3"/><text x="492" y="883">15748</text></g>
<g id="d-34799"><rect x="118" y="893" width="66" height="30" rx="3"/><text x="151" y="908">34799</text></g>
<g id="d-4483"><rect x="80" y="917" width="66" height="30" rx="3"/><text x="113" y="932">4483</text></g>
<g id="d-60"><rect x="152" y="922" width="66" height="30" rx="3"/><text x="185" y="937">60</text></g>
<g id="d-4424"><rect x="193" y="915" width="66" height="30" rx="3"/><text x="226" y="930">4424</text></g>
<g id="d-1896"><rect x="237" y="920" width="66" height="30" rx="3"/><text x="270" y="935">1896</text></g>
<g id="d-10143"><rect x="282" y="928" width="66" height="30" rx="3"/><text x="315" y="943">10143</text></g>
<g id="d-1365"><rect x="329" y="931" width="66" height="30" rx="3"/><text x="362" y="946">1365</text></g>
<g id="d-1495"><rect x="406" y="920" width="66" height="30" rx="3"/><text x="439" y="935">1495</text></g>
<g id="d-8057"><rect x="452" y="915" width="66" height="30" rx="3"/><text x="485" y="930">8057</text></g>
<g id="d-280"><rect x="497" y="903" width="66" height="30" rx="3"/><text x="522" y="918">280</text></g>
<g id="d-1712"><rect x="530" y="905" width="66" height="30" rx="3"/><text x="563" y="920">1712</text></g>
<g id="d-21784"><rect x="370" y="943" width="66" height="30" rx="3"/><text x="403" y="958">21784</text></g>
<g id="d-111"><rect x="115" y="947" width="66" height="30" rx="3"/><text x="148" y="962">111</text></g>
<g id="d-1922"><rect x="172" y="961" width="66" height="30" rx="3"/><text x="205" y="976">1922</text></g>
<g id="d-31"><rect x="257" y="967" width="66" height="30" rx="3"/><text x="290" y="982">31</text></g>
<g id="d-20560"><rect x="218" y="960" width="66" height="30" rx="3"/><text x="251" y="975">20560</text></g>
<g id="d-101"><rect x="296" y="972" width="66" height="30" rx="3"/><text x="326" y="987">101</text></g>
<g id="d-15541"><rect x="334" y="973" width="66" height="30" rx="3"/><text x="367" y="988">15541</text></g>
<g id="d-4550"><rect x="462" y="958" width="66" height="30" rx="3"/><text x="495" y="973">4550</text></g>
<g id="d-15658"><rect x="419" y="960" width="66" height="30" rx="3"/><text x="452" y="975">15658</text></g>
<g id="d-21342"><rect x="505" y="952" width="66" height="30" rx="3"/><text x="538" y="967">21342</text></g>
<g id="d-6"><rect x="133" y="987" width="66" height="30" rx="3"/><text x="166" y="1002">6</text></g>
<g id="d-2"><rect x="382" y="987" width="66" height="30" rx="3"/><text x="415" y="1002">2</text></g>
<g id="d-17216"><rect x="216" y="1000" width="66" height="30" rx="3"/><text x="249" y="1015">17216</text></g>
<g id="d-25"><rect x="267" y="1013" width="66" height="30" rx="3"/><text x="300" y="1028">25</text></g>
<g id="d-176"><rect x="353" y="1012" width="66" height="30" rx="3"/><text x="386" y="1027">176</text></g>
<g id="d-12405"><rect x="463" y="999" width="66" height="30" rx="3"/><text x="496" y="1014">12405</text></g>
<g id="d-33"><rect x="171" y="1017" width="66" height="30" rx="3"/><text x="204" y="1032">33</text></g>
<g id="d-3"><rect x="306" y="1021" width="66" height="30" rx="3"/><text x="339" y="1036">3</text></g>
<g id="d-3759"><rect x="424" y="1016" width="66" height="30" rx="3"/><text x="457" y="1031">3759</text></g>
<g id="d-22564"><rect x="224" y="1044" width="66" height="30" rx="3"/><text x="257" y="1059">22564</text></g>
<g id="d-21249"><rect x="386" y="1045" width="66" height="30" rx="3"/><text x="419" y="1060">21249</text></g>
<g id="d-8022"><rect x="276" y="1058" width="66" height="30" rx="3"/><text x="309" y="1073">8022</text></g>
<g id="d-10919"><rect x="338" y="1059" width="66" height="30" rx="3"/><text x="371" y="1074">10919</text></g>
<g id="d-1"><rect x="301" y="819" width="66" height="30" rx="3"/><text x="334" y="834">1</text></g>
</g>

<!-- ================= PANEL E ================= -->
<g id="e-edges" class="ee">
<line x1="976" y1="561" x2="952" y2="821"/>
<line x1="888" y1="578" x2="917" y2="683"/>
<line x1="917" y1="683" x2="952" y2="821"/>
<line x1="812" y1="615" x2="874" y2="703"/>
<line x1="874" y1="703" x2="952" y2="821"/>
<line x1="755" y1="675" x2="843" y2="740"/>
<line x1="843" y1="740" x2="952" y2="821"/>
<line x1="711" y1="748" x2="815" y2="778"/>
<line x1="815" y1="778" x2="875" y2="802"/>
<line x1="875" y1="802" x2="952" y2="821"/>
<line x1="875" y1="796" x2="952" y2="815"/>
<line x1="692" y1="835" x2="802" y2="829"/>
<line x1="802" y1="829" x2="952" y2="821"/>
<line x1="735" y1="908" x2="835" y2="864"/>
<line x1="835" y1="864" x2="952" y2="821"/>
<line x1="754" y1="988" x2="836" y2="916"/>
<line x1="836" y1="916" x2="897" y2="880"/>
<line x1="897" y1="880" x2="952" y2="821"/>
<line x1="826" y1="1040" x2="879" y2="944"/>
<line x1="879" y1="944" x2="897" y2="880"/>
<line x1="879" y1="944" x2="952" y2="821"/>
<line x1="909" y1="1065" x2="925" y2="956"/>
<line x1="925" y1="956" x2="952" y2="821"/>
<line x1="997" y1="1075" x2="979" y2="967"/>
<line x1="979" y1="967" x2="952" y2="821"/>
<line x1="1079" y1="1043" x2="1027" y2="945"/>
<line x1="1027" y1="945" x2="952" y2="821"/>
<line x1="1114" y1="972" x2="1038" y2="893"/>
<line x1="1038" y1="893" x2="952" y2="821"/>
<line x1="1184" y1="936" x2="1086" y2="885"/>
<line x1="1086" y1="885" x2="952" y2="821"/>
<line x1="1198" y1="848" x2="1090" y2="835"/>
<line x1="1090" y1="835" x2="952" y2="821"/>
<line x1="1204" y1="759" x2="1096" y2="781"/>
<line x1="1096" y1="781" x2="952" y2="821"/>
<line x1="1151" y1="691" x2="1057" y2="751"/>
<line x1="1057" y1="751" x2="952" y2="821"/>
<line x1="1113" y1="614" x2="1045" y2="700"/>
<line x1="1045" y1="700" x2="952" y2="821"/>
<line x1="1036" y1="615" x2="996" y2="718"/>
<line x1="996" y1="718" x2="952" y2="821"/>
<line x1="968" y1="671" x2="952" y2="821"/>
<line x1="930" y1="747" x2="945" y2="821"/>
<line x1="936" y1="747" x2="949" y2="821"/>
<line x1="942" y1="747" x2="953" y2="821"/>
<line x1="1031" y1="813" x2="952" y2="821"/>
<line x1="1031" y1="813" x2="1038" y2="893"/>
<line x1="897" y1="880" x2="972" y2="899"/>
<line x1="972" y1="899" x2="952" y2="821"/>
<path d="M874 787C872 770 885 755 906 750"/>
<path d="M898 789C910 768 925 760 936 762C948 764 952 785 952 808"/>
</g>
<g id="e-nodes" class="ne">
<g id="e-44788"><rect x="946" y="547" width="60" height="28" rx="3"/><text x="976" y="561">44788</text></g>
<g id="e-14008"><rect x="858" y="564" width="60" height="28" rx="3"/><text x="888" y="578">14008</text></g>
<g id="e-15321"><rect x="782" y="601" width="60" height="28" rx="3"/><text x="812" y="615">15321</text></g>
<g id="e-15658"><rect x="1006" y="601" width="60" height="28" rx="3"/><text x="1036" y="615">15658</text></g>
<g id="e-4129"><rect x="1083" y="600" width="60" height="28" rx="3"/><text x="1113" y="614">4129</text></g>
<g id="e-7"><rect x="725" y="661" width="60" height="28" rx="3"/><text x="755" y="675">7</text></g>
<g id="e-53"><rect x="887" y="669" width="60" height="28" rx="3"/><text x="917" y="683">53</text></g>
<g id="e-107"><rect x="938" y="657" width="60" height="28" rx="3"/><text x="968" y="671">107</text></g>
<g id="e-66"><rect x="844" y="689" width="60" height="28" rx="3"/><text x="874" y="703">66</text></g>
<g id="e-31"><rect x="1015" y="686" width="60" height="28" rx="3"/><text x="1045" y="700">31</text></g>
<g id="e-69"><rect x="966" y="704" width="60" height="28" rx="3"/><text x="996" y="718">69</text></g>
<g id="e-21684"><rect x="1121" y="677" width="60" height="28" rx="3"/><text x="1151" y="691">21684</text></g>
<g id="e-6"><rect x="813" y="726" width="60" height="28" rx="3"/><text x="843" y="740">6</text></g>
<g id="e-1"><rect x="906" y="733" width="60" height="28" rx="3"/><text x="936" y="747">1</text></g>
<g id="e-95"><rect x="1027" y="737" width="60" height="28" rx="3"/><text x="1057" y="751">95</text></g>
<g id="e-1763"><rect x="681" y="734" width="60" height="28" rx="3"/><text x="711" y="748">1763</text></g>
<g id="e-29"><rect x="785" y="764" width="60" height="28" rx="3"/><text x="815" y="778">29</text></g>
<g id="e-1037"><rect x="1174" y="745" width="60" height="28" rx="3"/><text x="1204" y="759">1037</text></g>
<g id="e-27"><rect x="1066" y="767" width="60" height="28" rx="3"/><text x="1096" y="781">27</text></g>
<g id="e-3"><rect x="845" y="788" width="60" height="28" rx="3"/><text x="875" y="802">3</text></g>
<g id="e-16"><rect x="1001" y="799" width="60" height="28" rx="3"/><text x="1031" y="813">16</text></g>
<g id="e-58"><rect x="1060" y="821" width="60" height="28" rx="3"/><text x="1090" y="835">58</text></g>
<g id="e-61"><rect x="772" y="815" width="60" height="28" rx="3"/><text x="802" y="829">61</text></g>
<g id="e-14953"><rect x="662" y="821" width="60" height="28" rx="3"/><text x="692" y="835">14953</text></g>
<g id="e-14829"><rect x="1168" y="834" width="60" height="28" rx="3"/><text x="1198" y="848">14829</text></g>
<g id="e-26"><rect x="805" y="850" width="60" height="28" rx="3"/><text x="835" y="864">26</text></g>
<g id="e-20849"><rect x="867" y="866" width="60" height="28" rx="3"/><text x="897" y="880">20849</text></g>
<g id="e-50"><rect x="1056" y="871" width="60" height="28" rx="3"/><text x="1086" y="885">50</text></g>
<g id="e-32"><rect x="1008" y="879" width="60" height="28" rx="3"/><text x="1038" y="893">32</text></g>
<g id="e-82"><rect x="942" y="885" width="60" height="28" rx="3"/><text x="972" y="899">82</text></g>
<g id="e-1019"><rect x="705" y="894" width="60" height="28" rx="3"/><text x="735" y="908">1019</text></g>
<g id="e-22"><rect x="806" y="902" width="60" height="28" rx="3"/><text x="836" y="916">22</text></g>
<g id="e-13651"><rect x="1154" y="922" width="60" height="28" rx="3"/><text x="1184" y="936">13651</text></g>
<g id="e-4"><rect x="849" y="930" width="60" height="28" rx="3"/><text x="879" y="944">4</text></g>
<g id="e-28"><rect x="895" y="942" width="60" height="28" rx="3"/><text x="925" y="956">28</text></g>
<g id="e-84"><rect x="997" y="931" width="60" height="28" rx="3"/><text x="1027" y="945">84</text></g>
<g id="e-46"><rect x="949" y="953" width="60" height="28" rx="3"/><text x="979" y="967">46</text></g>
<g id="e-4378"><rect x="1084" y="958" width="60" height="28" rx="3"/><text x="1114" y="972">4378</text></g>
<g id="e-176"><rect x="724" y="974" width="60" height="28" rx="3"/><text x="754" y="988">176</text></g>
<g id="e-5"><rect x="796" y="1026" width="60" height="28" rx="3"/><text x="826" y="1040">5</text></g>
<g id="e-21085"><rect x="1049" y="1029" width="60" height="28" rx="3"/><text x="1079" y="1043">21085</text></g>
<g id="e-1712"><rect x="879" y="1051" width="60" height="28" rx="3"/><text x="909" y="1065">1712</text></g>
<g id="e-12405"><rect x="967" y="1061" width="60" height="28" rx="3"/><text x="997" y="1075">12405</text></g>
<g id="e-2"><rect x="922" y="807" width="60" height="28" rx="3"/><text x="952" y="821">2</text><circle cx="953" cy="818" r="35" fill="none" stroke="#D42A20" stroke-width="3.6"/></g>
</g>

<!-- ================= PANEL F ================= -->
<g id="f-edges" class="ef">
<line x1="357" y1="1330" x2="365" y2="1168"/>
<line x1="357" y1="1330" x2="512" y2="1208"/>
<line x1="357" y1="1330" x2="554" y2="1335"/>
<line x1="357" y1="1330" x2="497" y2="1470"/>
<line x1="357" y1="1330" x2="334" y2="1458"/>
<line x1="357" y1="1330" x2="262" y2="1520"/>
<line x1="357" y1="1330" x2="120" y2="1320"/>
<line x1="357" y1="1330" x2="166" y2="1411"/>
<line x1="357" y1="1330" x2="262" y2="1245"/>
<line x1="357" y1="1330" x2="147" y2="1227"/>
<line x1="262" y1="1245" x2="365" y2="1168"/>
<line x1="365" y1="1168" x2="255" y2="1348"/>
<line x1="262" y1="1245" x2="120" y2="1320"/>
<line x1="262" y1="1245" x2="255" y2="1348"/>
<line x1="250" y1="1245" x2="252" y2="1348"/>
<line x1="262" y1="1245" x2="166" y2="1411"/>
<line x1="262" y1="1245" x2="334" y2="1458"/>
<line x1="147" y1="1227" x2="255" y2="1348"/>
<line x1="147" y1="1227" x2="166" y2="1411"/>
<line x1="120" y1="1320" x2="255" y2="1348"/>
<line x1="166" y1="1411" x2="255" y2="1348"/>
<line x1="166" y1="1411" x2="334" y2="1458"/>
<line x1="255" y1="1348" x2="334" y2="1458"/>
<line x1="255" y1="1348" x2="262" y2="1520"/>
<path d="M148 1200C158 1160 192 1126 220 1134C252 1142 263 1185 263 1218"/>
<path d="M298 1222C320 1212 345 1235 352 1262C356 1280 357 1295 357 1305"/>
<path d="M207 1240C177 1251 152 1276 144 1296"/>
<path d="M247 1271C238 1293 245 1315 257 1321"/>
<path d="M161 1340C170 1348 187 1349 199 1349"/>
<path d="M162 1340C168 1356 167 1370 165 1386"/>
<path d="M71 1334C50 1370 50 1402 75 1407C90 1411 100 1411 109 1411"/>
</g>
<g id="f-nodes" class="nf">
<g id="f-8"><ellipse cx="365" cy="1168" rx="57" ry="22"/><text x="365" y="1168">8</text></g>
<g id="f-25"><ellipse cx="512" cy="1208" rx="57" ry="24"/><text x="512" y="1208">25</text></g>
<g id="f-5"><ellipse cx="147" cy="1227" rx="57" ry="24"/><text x="147" y="1227">5</text></g>
<g id="f-4"><ellipse cx="262" cy="1245" rx="58" ry="25"/><text x="262" y="1245">4</text></g>
<g id="f-7"><ellipse cx="120" cy="1320" rx="58" ry="26"/><text x="120" y="1320">7</text></g>
<g id="f-1"><ellipse cx="357" cy="1330" rx="58" ry="25"/><text x="357" y="1330">1</text></g>
<g id="f-3"><ellipse cx="255" cy="1348" rx="58" ry="24"/><text x="255" y="1348">3</text></g>
<g id="f-26"><ellipse cx="554" cy="1335" rx="57" ry="25"/><text x="554" y="1335">26</text></g>
<g id="f-2"><ellipse cx="166" cy="1411" rx="58" ry="25"/><text x="166" y="1411">2</text></g>
<g id="f-6"><ellipse cx="334" cy="1458" rx="57" ry="25"/><text x="334" y="1458">6</text></g>
<g id="f-27"><ellipse cx="497" cy="1470" rx="57" ry="25"/><text x="497" y="1470">27</text></g>
<g id="f-9"><ellipse cx="262" cy="1520" rx="57" ry="26"/><text x="262" y="1520">9</text></g>
</g>

<!-- ================= PANEL G ================= -->
<g id="g-groups">
<ellipse class="grp" cx="903" cy="1330" rx="107" ry="117" transform="rotate(-8 903 1330)"/>
<ellipse class="grp" cx="1118" cy="1331" rx="96" ry="130" transform="rotate(-17 1118 1331)"/>
<ellipse class="grp" cx="741" cy="1437" rx="73" ry="106" transform="rotate(-14 741 1437)"/>
<ellipse class="grp" cx="963" cy="1493" rx="46" ry="50" transform="rotate(-5 963 1493)"/>
</g>
<g id="g-edges" class="eg">
<line x1="936" y1="1256" x2="905" y2="1331"/>
<line x1="823" y1="1324" x2="905" y2="1331"/>
<line x1="905" y1="1331" x2="984" y2="1341"/>
<line x1="905" y1="1331" x2="912" y2="1411"/>
<path d="M886 1411C850 1409 862 1358 891 1360C906 1361 911 1381 911 1400"/>
<line x1="720" y1="1400" x2="758" y2="1453"/>
<line x1="758" y1="1453" x2="779" y2="1495"/>
<path d="M695 1400C660 1398 665 1348 701 1349C718 1350 720 1372 720 1388"/>
<line x1="1055" y1="1255" x2="1104" y2="1319"/>
<line x1="1104" y1="1319" x2="1182" y2="1325"/>
<line x1="1104" y1="1319" x2="1089" y2="1396"/>
<path d="M952 1502C918 1501 925 1450 960 1451C977 1452 977 1478 977 1490"/>
</g>
<g id="g-nodes" class="ng">
<g id="g-6"><ellipse cx="936" cy="1256" rx="26" ry="12.5"/><text x="936" y="1256">6</text></g>
<g id="g-2"><ellipse cx="823" cy="1324" rx="26" ry="12.5"/><text x="823" y="1324">2</text></g>
<g id="g-4"><ellipse cx="905" cy="1331" rx="33" ry="15" style="fill:#B8DDB6" stroke="#F2B24C" stroke-width="1"/><ellipse cx="905" cy="1331" rx="26" ry="12" style="fill:#6EC2BF"/><text x="905" y="1331">4</text></g>
<g id="g-5"><ellipse cx="984" cy="1341" rx="26" ry="12.5"/><text x="984" y="1341">5</text></g>
<g id="g-3"><ellipse cx="912" cy="1411" rx="26" ry="12.5"/><text x="912" y="1411">3</text></g>
<g id="g-27"><ellipse cx="1055" cy="1255" rx="26" ry="12.5"/><text x="1055" y="1255">27</text></g>
<g id="g-11"><ellipse cx="1104" cy="1319" rx="26" ry="12.5"/><text x="1104" y="1319">11</text></g>
<g id="g-26"><ellipse cx="1182" cy="1325" rx="26" ry="12.5"/><text x="1182" y="1325">26</text></g>
<g id="g-25"><ellipse cx="1089" cy="1396" rx="26" ry="12.5"/><text x="1089" y="1396">25</text></g>
<g id="g-7"><ellipse cx="720" cy="1400" rx="26" ry="12.5"/><text x="720" y="1400">7</text></g>
<g id="g-8"><ellipse cx="758" cy="1453" rx="26" ry="12.5"/><text x="758" y="1453">8</text></g>
<g id="g-9"><ellipse cx="779" cy="1495" rx="26" ry="12.5"/><text x="779" y="1495">9</text></g>
<g id="g-1"><ellipse cx="978" cy="1502" rx="26" ry="12.5"/><text x="978" y="1502">1</text></g>
<text x="958" y="1313" style="font:7px 'Liberation Sans',Arial,sans-serif;fill:#E53935">Target node</text>
</g>

<!-- ================= PANEL LABELS ================= -->
<g id="panel-labels">
<text class="pl" x="6" y="496">(<tspan font-weight="bold">b</tspan>)</text>
<text class="pl" x="627" y="496">(<tspan font-weight="bold">c</tspan>)</text>
<text class="pl" x="6" y="1095">(<tspan font-weight="bold">d</tspan>)</text>
<text class="pl" x="627" y="1095">(<tspan font-weight="bold">e</tspan>)</text>
<text class="pl" x="6" y="1556">(<tspan font-weight="bold">f</tspan>)</text>
<text class="pl" x="627" y="1556">(<tspan font-weight="bold">g</tspan>)</text>
</g>
</g>
</svg>
